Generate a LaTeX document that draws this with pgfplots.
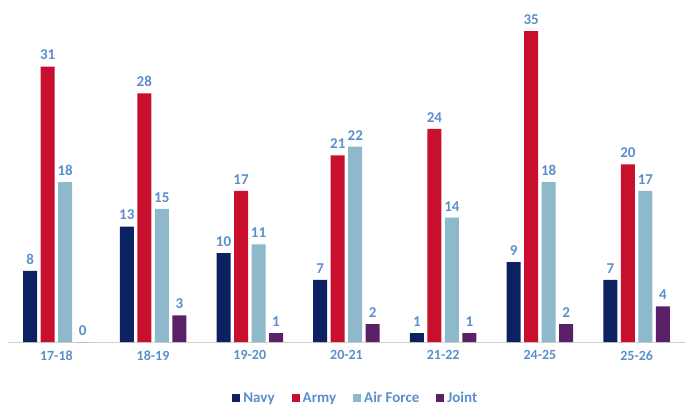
\documentclass[border=0pt]{standalone}
\usepackage{pgfplots}
\pgfplotsset{compat=1.18}
\usepackage{fontspec}
\setmainfont{Carlito}
\definecolor{navyc}{HTML}{0B2161}
\definecolor{armyc}{HTML}{C8102E}
\definecolor{afc}{HTML}{8DB9CB}
\definecolor{jointc}{HTML}{5B2168}
\definecolor{lblc}{HTML}{5A8FCB}
\begin{document}
\begin{tikzpicture}[x=1pt,y=1pt]
\path[use as bounding box] (-8pt,-66pt) rectangle (678pt,342pt);
\begin{axis}[
  at={(0pt,0pt)}, anchor=south west,
  scale only axis, width=677pt, height=342pt,
  xmin=-0.5, xmax=6.5, ymin=0, ymax=38.5,
  ybar=3.5pt, bar width=14pt,
  axis y line=none, axis x line*=bottom,
  axis line style={draw=black!18, line width=1pt},
  xtick={0,...,6}, xticklabels={17-18,18-19,19-20,20-21,21-22,24-25,25-26},
  major tick length=0pt,
  tick label style={font=\fontsize{14}{14}\selectfont\bfseries, text=lblc},
  xticklabel style={yshift=-5pt},
  nodes near coords,
  every node near coord/.append style={font=\fontsize{15}{15}\selectfont\bfseries, text=lblc, yshift=3pt},
  /pgf/number format/assume math mode=true,
  legend style={at={(0.513,-0.164)}, anchor=center, draw=none,
    nodes={font=\fontsize{15}{15}\selectfont\bfseries, text=lblc, inner sep=1pt},
    legend columns=4,
    /tikz/every even column/.append style={column sep=16pt},
    /tikz/every odd column/.append style={column sep=2pt}},
  legend image code/.code={\draw[#1, draw=none] (0pt,-4pt) rectangle (8pt,4pt);},
  clip=false,
]
\addplot[fill=navyc, draw=none] coordinates {(0,8) (1,13) (2,10) (3,7) (4,1) (5,9) (6,7)};
\addplot[fill=armyc, draw=none] coordinates {(0,31) (1,28) (2,17) (3,21) (4,24) (5,35) (6,20)};
\addplot[fill=afc, draw=none] coordinates {(0,18) (1,15) (2,11) (3,22) (4,14) (5,18) (6,17)};
\addplot[fill=jointc, draw=none] coordinates {(0,0) (1,3) (2,1) (3,2) (4,1) (5,2) (6,4)};
\legend{Navy,Army,Air Force,Joint}
\end{axis}
\end{tikzpicture}
\end{document}
